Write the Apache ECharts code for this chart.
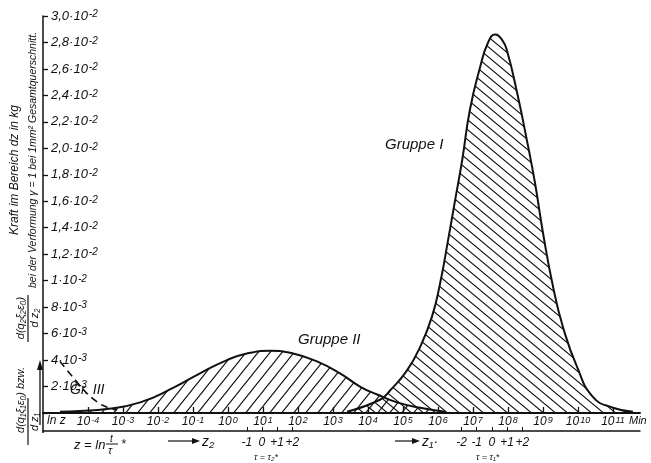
<!DOCTYPE html>
<html lang="de">
<head>
<meta charset="UTF-8">
<title>Gruppe I / II / III</title>
<style>
  html,body{margin:0;padding:0;background:#fff;}
  #chart{width:651px;height:463px;}
</style>
</head>
<body>
<div id="chart"></div>
<script src="https://cdn.jsdelivr.net/npm/echarts@6/dist/echarts.min.js"></script>
<script>
  // x = log10(t in Min), y = Kraft in kg
  const gruppe1 = [
    [3.4, 0.0001], [4.34, 0.0010], [4.63, 0.0017], [5.11, 0.0032], [5.49, 0.0050],
    [5.83, 0.0073], [6.06, 0.0098], [6.29, 0.0131], [6.49, 0.0161], [6.69, 0.0191],
    [6.91, 0.0229], [7.2, 0.0261], [7.43, 0.0280], [7.63, 0.0286], [7.83, 0.0282],
    [7.97, 0.0274], [8.26, 0.0242], [8.54, 0.0206], [8.77, 0.0174], [9.0, 0.0136],
    [9.29, 0.0095], [9.57, 0.0065], [9.97, 0.0035], [10.43, 0.0012], [11.0, 0.0004],
    [11.57, 0.0001]
  ];
  const gruppe2 = [
    [-4.8, 0.0001], [-4.23, 0.00015], [-3.46, 0.0003], [-2.51, 0.0008], [-1.57, 0.0019],
    [-0.8, 0.0030], [-0.03, 0.0040], [0.54, 0.0045], [1.2, 0.0047], [1.86, 0.0045],
    [2.54, 0.0039], [3.2, 0.0030], [3.77, 0.0020], [4.26, 0.0014], [4.83, 0.0008],
    [5.49, 0.0004], [6.2, 0.0001]
  ];
  const gruppe3 = [
    [-4.8, 0.0039], [-4.4, 0.0026], [-4.0, 0.0014], [-3.6, 0.0006], [-3.17, 0.0002]
  ];
  const decades = [-4, -3, -2, -1, 0, 1, 2, 3, 4, 5, 6, 7, 8, 9, 10, 11];
  const tau2 = 0.97;   // log10 position of tau2*
  const tau1 = 7.54;   // log10 position of tau1*
  const z2Steps = [-1, 0, 1, 2];
  const z1Steps = [-2, -1, 0, 1, 2];

  const LN10 = Math.log(10);
  const rulerValues = z2Steps.map(k => tau2 + k / LN10).concat(z1Steps.map(k => tau1 + k / LN10));

  function hatch(w, h, dir) {
    const c = document.createElement('canvas');
    c.width = w; c.height = h;
    const g = c.getContext('2d');
    g.strokeStyle = '#111';
    g.lineWidth = 1.1;
    g.beginPath();
    for (let k = -1; k <= 2; k++) {
      if (dir === 'down') {
        g.moveTo(k * w - w, -h); g.lineTo(k * w + 2 * w, 2 * h);
      } else {
        g.moveTo(k * w + w, -h); g.lineTo(k * w - 2 * w, 2 * h);
      }
    }
    g.stroke();
    return c;
  }

  const font = 'Liberation Sans';
  const txt = (x, y, text, size) => ({
    type: 'text', x: x, y: y,
    style: { text: text, font: 'italic ' + size + 'px "' + font + '"', fill: '#111', textVerticalAlign: 'middle' }
  });
  const vtxt = (x, y, text, size) => ({
    type: 'text', x: x, y: y, rotation: Math.PI / 2,
    style: { text: text, font: 'italic ' + size + 'px "' + font + '"', fill: '#111', textAlign: 'center', textVerticalAlign: 'middle' }
  });
  const supRich = (base) => ({
    b: { fontSize: base, fontStyle: 'italic', fontFamily: font, color: '#111' },
    s: { fontSize: base - 3, fontStyle: 'italic', fontFamily: font, color: '#111', verticalAlign: 'top', padding: [0, 0, 0, 1] }
  });

  const chart = echarts.init(document.getElementById('chart'));
  chart.setOption({
    animation: false,
    backgroundColor: '#fff',
    grid: { left: 43, right: 11, top: 16, bottom: 50 },
    xAxis: [{
      type: 'value', min: -5.286, max: 11.771,
      splitLine: { show: false },
      axisLine: { lineStyle: { color: '#111', width: 2 } },
      axisTick: { inside: true, length: 6, customValues: decades, lineStyle: { color: '#111', width: 1.3 } },
      axisLabel: {
        customValues: decades, margin: 3, color: '#111',
        fontFamily: font, fontStyle: 'italic', fontSize: 12,
        formatter: v => '{b|10}{s|' + Math.round(v) + '}',
        rich: supRich(12)
      }
    }, {
      type: 'value', min: -5.286, max: 11.771, position: 'bottom', offset: 18,
      splitLine: { show: false },
      axisLine: { lineStyle: { color: '#111', width: 1.5 } },
      axisTick: { inside: true, length: 4, customValues: rulerValues, lineStyle: { color: '#111' } },
      axisLabel: {
        customValues: rulerValues, margin: 6, color: '#111',
        fontFamily: font, fontStyle: 'italic', fontSize: 12,
        formatter: v => {
          const k = Math.round((v - (v > 4 ? tau1 : tau2)) * LN10);
          return k > 0 ? '+' + k : String(k);
        }
      }
    }],
    yAxis: {
      type: 'value', min: 0, max: 0.03, interval: 0.002,
      splitLine: { show: false },
      axisLine: { show: true, onZero: false, lineStyle: { color: '#111', width: 1.5 } },
      axisTick: { show: true, inside: true, length: 5, lineStyle: { color: '#111', width: 1.3 } },
      axisLabel: {
        inside: true, margin: 8, color: '#111',
        fontFamily: font, fontStyle: 'italic', fontSize: 13,
        formatter: v => {
          if (v <= 0) return '';
          if (v > 0.0099) {
            const m = Math.round(v * 1000) / 10;
            return '{b|' + (m === 1 ? '1' : m.toFixed(1).replace('.', ',')) + '·10}{s|-2}';
          }
          return '{b|' + Math.round(v * 1000) + '·10}{s|-3}';
        },
        rich: supRich(13)
      }
    },
    series: [{
      name: 'Gruppe II', type: 'line', data: gruppe2, smooth: 0.5, symbol: 'none',
      lineStyle: { color: '#111', width: 2 },
      areaStyle: { color: { image: hatch(12, 15, 'up'), repeat: 'repeat' }, opacity: 1 }
    }, {
      name: 'Gruppe I', type: 'line', data: gruppe1, smooth: 0.5, symbol: 'none',
      lineStyle: { color: '#111', width: 2 },
      areaStyle: { color: { image: hatch(12, 10, 'down'), repeat: 'repeat' }, opacity: 1 }
    }, {
      name: 'Gr. III', type: 'line', data: gruppe3, smooth: 0.3, symbol: 'none',
      lineStyle: { color: '#111', width: 1.6, type: [7, 5] }
    }],
    graphic: [
      // axis extension and arrow
      { type: 'line', shape: { x1: 43, y1: 413, x2: 43, y2: 433 }, style: { stroke: '#111', lineWidth: 1.5 } },
      { type: 'line', shape: { x1: 40, y1: 425, x2: 40, y2: 368 }, style: { stroke: '#111', lineWidth: 1.3 } },
      { type: 'polygon', shape: { points: [[37, 370], [40, 360], [43, 370]] }, style: { fill: '#111' } },
      // axis names
      vtxt(15, 170, 'Kraft im Bereich dz in kg', 12),
      vtxt(33, 160, 'bei der Verformung γ = 1 bei 1mm² Gesamtquerschnitt.', 10.5),
      // d(q2 ξ2 ε0)/dz2 bzw. d(q1 ξ1 ε0)/dz1
      vtxt(21, 318, 'd(q₂ξ₂ε₀)', 11),
      { type: 'line', shape: { x1: 28, y1: 295, x2: 28, y2: 342 }, style: { stroke: '#111', lineWidth: 1.2 } },
      vtxt(35, 318, 'd z₂', 11),
      vtxt(21, 400, 'd(q₁ξ₁ε₀) bzw.', 11),
      { type: 'line', shape: { x1: 28, y1: 398, x2: 28, y2: 445 }, style: { stroke: '#111', lineWidth: 1.2 } },
      vtxt(35, 422, 'd z₁', 11),
      // labels on axis row
      txt(47, 421, 'ln z', 12),
      txt(629, 421, 'Min', 11),
      // z = ln t/tau*
      txt(74, 445, 'z = ln', 13),
      txt(110, 439, 't', 10),
      { type: 'line', shape: { x1: 106, y1: 444, x2: 118, y2: 444 }, style: { stroke: '#111', lineWidth: 1 } },
      txt(108, 451, 'τ', 11),
      txt(121, 445, '*', 12),
      // arrows z2, z1
      { type: 'line', shape: { x1: 168, y1: 441, x2: 194, y2: 441 }, style: { stroke: '#111', lineWidth: 1.2 } },
      { type: 'polygon', shape: { points: [[192, 438], [200, 441], [192, 444]] }, style: { fill: '#111' } },
      txt(202, 442, 'z₂', 14),
      txt(254, 457, 'τ = τ₂*', 9),
      { type: 'line', shape: { x1: 395, y1: 441, x2: 414, y2: 441 }, style: { stroke: '#111', lineWidth: 1.2 } },
      { type: 'polygon', shape: { points: [[412, 438], [420, 441], [412, 444]] }, style: { fill: '#111' } },
      txt(422, 442, 'z₁·', 14),
      txt(476, 457, 'τ = τ₁*', 9),
      // group labels
      txt(385, 145, 'Gruppe I', 15),
      txt(298, 340, 'Gruppe II', 15),
      txt(70, 390, 'Gr. III', 14)
    ]
  });
</script>
</body>
</html>
